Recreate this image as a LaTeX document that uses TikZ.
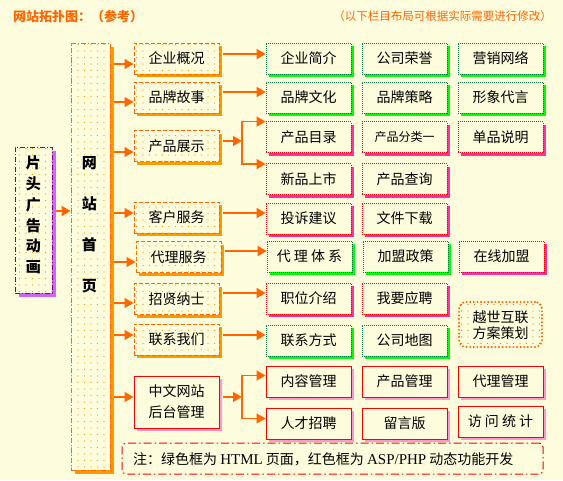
\documentclass[tikz,border=0pt]{standalone}
\usepackage{fontspec}
\setmainfont{Noto Sans CJK SC}
\newfontfamily\lat{Liberation Serif}
\usetikzlibrary{arrows.meta,shadows,patterns.meta}

\definecolor{bgc}{HTML}{FDFDDD}
\definecolor{lnc}{HTML}{FF6600}
\definecolor{shc}{HTML}{FF9900}
\definecolor{dotc}{HTML}{FF9900}
\definecolor{grn}{HTML}{00FF00}
\definecolor{grnb}{HTML}{008040}
\definecolor{pnk}{HTML}{FF3399}
\definecolor{redb}{HTML}{FF0000}
\definecolor{pnkd}{HTML}{FF99CC}
\definecolor{purb}{HTML}{800080}
\definecolor{purs}{HTML}{CC66FF}

\tikzdeclarepattern{
  name=sdots, type=uncolored,
  bottom left={(-1pt,-1pt)}, top right={(1pt,1pt)},
  tile size={(6.5pt,6.5pt)},
  code={\fill (0pt,0pt) circle (0.55pt);}
}

\newcommand{\bgt}[1]{{\setlength{\fboxsep}{1pt}\colorbox{bgc}{#1}}}

\tikzset{
  box/.style={minimum width=85pt, minimum height=31pt, inner sep=0pt, fill=bgc,
    font=\fontsize{14}{16}\selectfont},
  lone/.style={box, draw=lnc, line width=1pt, dash pattern=on 4pt off 2pt,
    drop shadow={shadow xshift=3pt, shadow yshift=-3pt, fill=shc, opacity=1},
    postaction={pattern=sdots, pattern color=dotc}},
  gbox/.style={box, draw=grnb, line width=0.8pt, dash pattern=on 1pt off 1pt,
    drop shadow={shadow xshift=3pt, shadow yshift=-3pt, fill=grn, opacity=1}},
  pbox/.style={box, draw=redb, line width=0.8pt, dash pattern=on 1pt off 1pt,
    drop shadow={shadow xshift=3pt, shadow yshift=-3pt, fill=pnk, opacity=1}},
  rbox/.style={box, draw=redb, line width=1pt,
    drop shadow={shadow xshift=3pt, shadow yshift=-3pt, fill=pnkd, opacity=1}},
  arr/.style={draw=lnc, line width=1.5pt, -{Triangle[length=9pt,width=10pt]}},
  ln/.style={draw=lnc, line width=1.5pt, line cap=rect},
}

\begin{document}
\begin{tikzpicture}[x=1pt,y=-1pt]
\fill[bgc] (0,0) rectangle (563,480);
\useasboundingbox (0,0) rectangle (563,480);

% titles
\node[anchor=west, text=lnc, inner sep=0pt, font=\fontsize{13}{15}\selectfont\bfseries] (title) at (13,16) {网站拓扑图：（参考）};
\node[anchor=east, text=lnc, inner sep=0pt, font=\fontsize{11.5}{13}\selectfont] (hint) at (552,16) {（以下栏目布局可根据实际需要进行修改）};

% intro box
\node[draw=purb, line width=0.8pt, dash pattern=on 5pt off 2pt on 1pt off 2pt, fill=bgc,
  minimum width=37pt, minimum height=146pt, inner sep=0pt,
  drop shadow={shadow xshift=4pt, shadow yshift=-4pt, fill=purs, opacity=1},
  postaction={pattern=sdots, pattern color=dotc}] (intro) at (33.5,220) {};
\node[font=\fontsize{15}{20.8}\selectfont\bfseries, align=center, inner sep=0pt] (introlbl) at (33.5,215) {片\\头\\广\\告\\动\\画};

% main box
\node[draw=lnc, line width=0.8pt, dash pattern=on 5pt off 2pt on 1pt off 2pt, fill=bgc,
  minimum width=39pt, minimum height=427pt, inner sep=0pt,
  drop shadow={shadow xshift=4pt, shadow yshift=-4pt, fill=shc, opacity=1},
  postaction={pattern=sdots, pattern color=dotc}] (main) at (90.5,256.5) {};
\node[font=\fontsize{15}{41}\selectfont\bfseries, align=center, inner sep=0pt] (mainlbl) at (89.5,225) {\bgt{网}\\\bgt{站}\\\bgt{首}\\\bgt{页}};

% level 1
\node[lone] (l1a) at (176.5,58.5) {\bgt{企业概况}};
\node[lone] (l1b) at (176.5,97.5) {\bgt{品牌故事}};
\node[lone] (l1c) at (176.5,146) {\bgt{产品展示}};
\node[lone] (l1d) at (176.5,217.5) {\bgt{客户服务}};
\node[lone] (l1e) at (178.5,257) {\bgt{代理服务}};
\node[lone] (l1f) at (176.5,299) {\bgt{招贤纳士}};
\node[lone] (l1g) at (176.5,339.5) {\bgt{联系我们}};
\node[rbox, minimum height=52pt, align=left, font=\fontsize{14}{21}\selectfont] (l1h) at (176.5,402) {中文网站\\后台管理};

% level 2
\node[gbox] (a1) at (308.5,58.5) {企业简介};
\node[gbox] (a2) at (404.5,58.5) {公司荣誉};
\node[gbox] (a3) at (500.5,58.5) {营销网络};
\node[gbox] (b1) at (308.5,97.5) {品牌文化};
\node[gbox] (b2) at (404.5,97.5) {品牌策略};
\node[gbox] (b3) at (500.5,97.5) {形象代言};
\node[pbox] (c1) at (308.5,137) {产品目录};
\node[pbox, font=\fontsize{12}{14}\selectfont] (c2) at (404.5,137) {产品分类一};
\node[pbox] (c3) at (500.5,137) {单品说明};
\node[pbox] (d1) at (308.5,179) {新品上市};
\node[pbox] (d2) at (404.5,179) {产品查询};
\node[pbox] (e1) at (308.5,218.5) {投诉建议};
\node[pbox] (e2) at (404.5,218.5) {文件下载};
\node[gbox] (f1) at (309.5,256.5) {代 理 体 系};
\node[gbox] (f2) at (405.5,256.5) {加盟政策};
\node[pbox] (f3) at (501.5,256.5) {在线加盟};
\node[pbox] (g1) at (308.5,298.5) {职位介绍};
\node[pbox] (g2) at (404.5,298.5) {我要应聘};
\node[gbox] (h1) at (308.5,340.5) {联系方式};
\node[gbox] (h2) at (404.5,340.5) {公司地图};
\node[rbox] (i1) at (308.5,381.5) {内容管理};
\node[rbox] (i2) at (404.5,381.5) {产品管理};
\node[rbox] (i3) at (500.5,381.5) {代理管理};
\node[rbox] (j1) at (308.5,423.5) {人才招聘};
\node[rbox] (j2) at (404.5,423.5) {留言版};
\node[rbox] (j3) at (500.5,421.5) {访 问 统 计};

% yueshi box
\node[draw=lnc, line width=2.2pt, dash pattern=on 0pt off 3.6pt, line cap=round,
  rounded corners=7pt, minimum width=83pt, minimum height=45pt, inner sep=0pt, fill=bgc,
  postaction={pattern=sdots, pattern color=lnc}] (yue) at (500.5,324.5) {};
\node[fill=bgc, inner sep=1pt, align=center, font=\fontsize{14}{16}\selectfont] (yuelbl) at (500.5,325) {越世互联\\方案策划};

% note
\node[draw=redb, line width=1pt, dash pattern=on 8pt off 3pt on 1.5pt off 3pt,
  rounded corners=4pt, minimum width=421pt, minimum height=31pt, inner sep=0pt] (note) at (332.5,458.5) {};
\node[anchor=west, inner sep=0pt, font=\fontsize{14}{16}\selectfont] (notelbl) at (133,459) {注：绿色框为 {\lat\fontsize{15}{16}\selectfont HTML} 页面，红色框为 {\lat\fontsize{15}{16}\selectfont ASP/PHP} 动态功能开发};

% intro -> main
\coordinate (s0) at ([xshift=4pt,yshift=9pt]intro.east);
\draw[arr] (s0) -- (s0 -| main.west);

% main -> level 1
\coordinate (mR) at ([xshift=4pt]main.east);
\foreach \n/\dy in {l1a/-5.5, l1b/-4.5, l1c/-6, l1d/4.5, l1e/-5, l1f/-4, l1g/4.5, l1h/5} {
  \coordinate (t) at ([yshift=\dy pt]\n.west);
  \draw[arr] (mR |- t) -- (t);
}

% level 1 -> level 2
\foreach \n/\m/\dy in {l1a/a1/4.5, l1b/b1/5.5, l1d/e1/4.5, l1e/f1/6, l1f/g1/6, l1g/h1/4.5} {
  \coordinate (u) at ([xshift=3pt,yshift=\dy pt]\n.east);
  \draw[arr] (u) -- (u -| \m.west);
}

% fork product
\coordinate (uc) at ([xshift=3pt,yshift=5pt]l1c.east);
\coordinate (jc) at (242,141);
\draw[arr] (uc) -- (uc -| jc);
\coordinate (ct) at ([yshift=-0.5pt]c1.north west);
\coordinate (cb) at ([yshift=-1pt]d1.north west);
\draw[ln] (jc |- ct) -- (jc |- cb);
\draw[arr] (jc |- ct) -- (ct);
\draw[arr] (jc |- cb) -- (cb);

% fork admin
\coordinate (uh) at ([xshift=3pt,yshift=5pt]l1h.east);
\coordinate (jh) at (242,397);
\draw[arr] (uh) -- (uh -| jh);
\coordinate (ht) at ([yshift=-10pt]i1.north west);
\coordinate (hb) at ([yshift=-11pt]j1.north west);
\draw[ln] (jh |- ht) -- (jh |- hb);
\draw[arr] (jh |- ht) -- (ht);
\draw[arr] (jh |- hb) -- (hb);
\end{tikzpicture}
\end{document}
